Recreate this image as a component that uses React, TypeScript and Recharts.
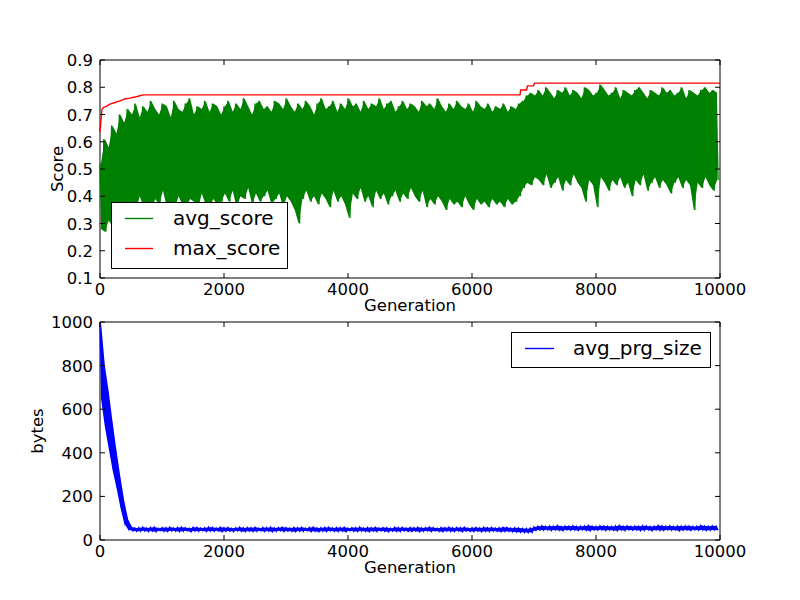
import { Area, ComposedChart, Legend, Line, ReferenceArea, XAxis, YAxis } from "recharts";

// generation grid: one high and one low reading per 62.5 generations
const GEN_STEP = 62.5;

const genTicks = [0, 2000, 4000, 6000, 8000, 10000];
const scoreTicks = [0.1, 0.2, 0.3, 0.4, 0.5, 0.6, 0.7, 0.8, 0.9];
const byteTicks = [0, 200, 400, 600, 800, 1000];

// avg_score, upper and lower swings of the noisy band
const scoreHigh = [
  0.52, 0.61, 0.58, 0.66, 0.63, 0.7, 0.67, 0.72,
  0.7, 0.74, 0.69, 0.73, 0.71, 0.75, 0.72, 0.7, 0.74, 0.73,
  0.69, 0.75, 0.72, 0.71, 0.74, 0.76, 0.7, 0.73, 0.72, 0.75,
  0.71, 0.74, 0.73, 0.7,
  0.73, 0.75, 0.71, 0.74, 0.72, 0.76, 0.73, 0.7, 0.74, 0.75,
  0.72, 0.73, 0.71, 0.75, 0.74, 0.72, 0.76, 0.73, 0.71, 0.74,
  0.72, 0.75, 0.73, 0.7, 0.74, 0.76, 0.72, 0.73, 0.75, 0.71,
  0.74, 0.72, 0.76, 0.73, 0.74, 0.71, 0.75, 0.72, 0.74, 0.73,
  0.76, 0.72, 0.74, 0.75, 0.71, 0.73, 0.75, 0.72, 0.74, 0.73,
  0.71, 0.75, 0.73, 0.74, 0.72, 0.76, 0.73, 0.71, 0.74, 0.72,
  0.75, 0.73, 0.72, 0.74, 0.71, 0.75, 0.73, 0.72, 0.74, 0.71,
  0.73, 0.72, 0.74, 0.71, 0.73, 0.72, 0.74,
  0.75, 0.77, 0.78, 0.77,
  0.79, 0.77, 0.8, 0.78, 0.76, 0.79, 0.78, 0.8, 0.77, 0.79,
  0.78, 0.76, 0.8, 0.79, 0.77, 0.78, 0.81, 0.79, 0.77, 0.78,
  0.8, 0.76, 0.79, 0.78, 0.77, 0.79, 0.8, 0.78, 0.76, 0.79,
  0.78, 0.77, 0.8, 0.78, 0.79, 0.77, 0.78, 0.8, 0.76, 0.79,
  0.78, 0.77, 0.79, 0.8, 0.78, 0.79, 0.78,
];
const scoreLow = [
  0.28, 0.27, 0.31, 0.29, 0.33, 0.3, 0.35, 0.34,
  0.37, 0.35, 0.4, 0.36, 0.38, 0.34, 0.39, 0.37, 0.42, 0.36,
  0.38, 0.35, 0.4, 0.37, 0.36, 0.39, 0.38, 0.35, 0.41, 0.37,
  0.36, 0.39, 0.37, 0.38,
  0.41, 0.38, 0.42, 0.36, 0.4, 0.39, 0.43, 0.37, 0.41, 0.38,
  0.4, 0.42, 0.37, 0.39, 0.41, 0.36, 0.4, 0.38, 0.35, 0.3,
  0.39, 0.42, 0.38, 0.4, 0.37, 0.41, 0.39, 0.36, 0.42, 0.38,
  0.4, 0.37, 0.32, 0.41, 0.39, 0.43, 0.38, 0.4, 0.36, 0.42,
  0.39, 0.41, 0.37, 0.4, 0.42, 0.38, 0.41, 0.39, 0.43, 0.4,
  0.38, 0.42, 0.36, 0.39, 0.37, 0.4, 0.38, 0.35, 0.39, 0.37,
  0.38, 0.36, 0.4, 0.37, 0.35, 0.39, 0.37, 0.38, 0.36, 0.39,
  0.37, 0.38, 0.36, 0.39, 0.37, 0.38, 0.4,
  0.43, 0.45, 0.44, 0.47,
  0.46, 0.44, 0.48, 0.43, 0.45, 0.47, 0.42, 0.46, 0.44, 0.48,
  0.45, 0.43, 0.38, 0.46, 0.44, 0.36, 0.47, 0.45, 0.42, 0.46,
  0.44, 0.47, 0.43, 0.45, 0.4, 0.46, 0.44, 0.48, 0.42, 0.45,
  0.47, 0.43, 0.46, 0.44, 0.41, 0.45, 0.47, 0.43, 0.46, 0.44,
  0.35, 0.45, 0.43, 0.47, 0.44, 0.42, 0.46,
];

// max_score, a rising step line
const maxScoreGen = [0, 32, 65, 100, 161, 240, 323, 403, 480, 565, 630, 694, 6775, 6785, 6880, 6895, 6990, 7010, 10000];
const maxScoreVal = [0.637, 0.72, 0.727, 0.73, 0.738, 0.744, 0.75, 0.757, 0.76, 0.764, 0.768, 0.772, 0.772, 0.79, 0.79, 0.805, 0.805, 0.815, 0.815];

// avg_prg_size, upper and lower swings
const prgHigh = [
  1000, 800, 680, 540, 410, 290, 180, 95, 60, 55,
  56, 58, 55, 57, 59, 54, 57, 56, 58, 55,
  57, 59, 56, 54, 58, 57, 55, 56, 59, 57,
  55, 58, 56, 57, 54, 56, 58, 55, 57, 56,
  58, 54, 57, 56, 59, 55, 57, 58, 56, 55,
  57, 56, 58, 54, 57, 59, 55, 56, 57, 58,
  55, 57, 56, 58, 54, 57, 56, 59, 55, 57,
  56, 58, 55, 57, 56, 54, 58, 56, 57, 55,
  57, 56, 58, 55, 57, 59, 56, 54, 57, 56,
  58, 55, 57, 56, 58, 54, 56, 57, 55, 58,
  56, 57, 55, 56, 58, 57, 54, 56, 55, 53,
  52, 54,
  60, 63, 65, 62, 64, 63, 66, 62, 64, 63,
  65, 62, 63, 64, 66, 63, 62, 65, 64, 63,
  62, 64, 66, 63, 65, 62, 64, 63, 65, 64,
  62, 63, 66, 64, 63, 65, 62, 64, 63, 65,
  64, 62, 63, 66, 64, 63, 65, 63,
];
const prgLow = [
  650, 520, 420, 320, 240, 150, 76, 48, 42, 40,
  40, 42, 39, 41, 38, 43, 40, 39, 42, 41,
  39, 40, 42, 38, 41, 40, 43, 39, 41, 40,
  42, 38, 40, 41, 39, 42, 40, 38, 41, 39,
  40, 42, 39, 41, 38, 40, 43, 39, 41, 40,
  38, 41, 40, 42, 39, 40, 38, 41, 39, 42,
  40, 39, 41, 38, 42, 40, 39, 41, 40, 38,
  41, 39, 42, 40, 38, 41, 40, 39, 42, 40,
  39, 41, 38, 40, 42, 39, 41, 40, 38, 41,
  40, 39, 42, 38, 41, 40, 39, 41, 38, 40,
  39, 41, 40, 38, 39, 40, 38, 37, 36, 35,
  34, 35,
  44, 46, 45, 47, 44, 46, 45, 43, 47, 45,
  46, 44, 47, 45, 43, 46, 45, 47, 44, 46,
  45, 43, 46, 44, 47, 45, 46, 44, 45, 47,
  43, 46, 45, 44, 47, 45, 46, 43, 45, 46,
  44, 47, 45, 46, 44, 45, 46, 45,
];

// zigzag through the swings for the line, and the band between them for the fill
const zigzag = (high: number[], low: number[]) =>
  high.flatMap((h, i) => [
    { gen: i * GEN_STEP, v: h },
    { gen: i * GEN_STEP + GEN_STEP / 2, v: low[i] },
  ]);
const band = (high: number[], low: number[]) =>
  high.map((h, i) => ({ gen: i * GEN_STEP + GEN_STEP / 4, range: [low[i], h] }));

const avgScoreData = zigzag(scoreHigh, scoreLow);
const avgScoreBand = band(scoreHigh, scoreLow);
const maxScoreData = maxScoreGen.map((gen, i) => ({ gen, v: maxScoreVal[i] }));
const prgData = zigzag(prgHigh, prgLow);
const prgBand = band(prgHigh, prgLow);

const PLOT_W = 620;
const PLOT_H = 218;
const FONT = "DejaVu Sans";
const TICK_FONT = 16.5;

function BottomTick({ x, y, payload }: any) {
  return (
    <g>
      <line x1={x} x2={x} y1={y} y2={y - 5} stroke="#000" />
      <line x1={x} x2={x} y1={y - PLOT_H} y2={y - PLOT_H + 5} stroke="#000" />
      <text x={x} y={y + 17} textAnchor="middle" fontSize={TICK_FONT} fontFamily={FONT} fill="#000">
        {payload.value}
      </text>
    </g>
  );
}

function makeLeftTick(fmt: (v: number) => string) {
  return ({ x, y, payload }: any) => (
    <g>
      <line x1={x} x2={x + 5} y1={y} y2={y} stroke="#000" />
      <line x1={x + PLOT_W - 5} x2={x + PLOT_W} y1={y} y2={y} stroke="#000" />
      <text x={x - 7} y={y + 6} textAnchor="end" fontSize={TICK_FONT} fontFamily={FONT} fill="#000">
        {fmt(payload.value)}
      </text>
    </g>
  );
}

const scoreTick = makeLeftTick((v) => v.toFixed(1));
const byteTick = makeLeftTick((v) => String(v));

function AxisTitle({ x, y, text, rotate }: { x: number; y: number; text: string; rotate?: boolean }) {
  return (
    <text
      transform={`translate(${x},${y})${rotate ? " rotate(-90)" : ""}`}
      textAnchor="middle"
      fontSize={TICK_FONT}
      fontFamily={FONT}
      fill="#000"
    >
      {text}
    </text>
  );
}

function ScoreLegend() {
  return (
    <svg width={177} height={67} style={{ display: "block" }}>
      <rect x={0.5} y={0.5} width={176} height={66} fill="#fff" stroke="#000" />
      <line x1={14} x2={42} y1={16.5} y2={16.5} stroke="#008000" strokeWidth={1.4} />
      <text x={62} y={22.5} fontSize={20} fontFamily={FONT} fill="#000">avg_score</text>
      <line x1={14} x2={42} y1={46.5} y2={46.5} stroke="#ff0000" strokeWidth={1.4} />
      <text x={62} y={52.5} fontSize={20} fontFamily={FONT} fill="#000">max_score</text>
    </svg>
  );
}

function PrgLegend() {
  return (
    <svg width={200} height={37} style={{ display: "block" }}>
      <rect x={0.5} y={0.5} width={199} height={35} fill="#fff" stroke="#000" />
      <line x1={14} x2={43} y1={16.5} y2={16.5} stroke="#0000ff" strokeWidth={1.4} />
      <text x={62} y={22.5} fontSize={20} fontFamily={FONT} fill="#000">avg_prg_size</text>
    </svg>
  );
}

export default function App() {
  return (
    <div style={{ position: "absolute", left: 0, top: 0, width: 800, height: 600, background: "#fff" }}>
      <div style={{ position: "absolute", left: 0, top: 0 }}>
        <ComposedChart width={800} height={322} margin={{ top: 60, right: 80, bottom: 0, left: 0 }}>
          <XAxis
            dataKey="gen"
            type="number"
            domain={[0, 10000]}
            ticks={genTicks}
            interval={0}
            height={44}
            tickSize={0}
            tickMargin={0}
            axisLine={false}
            tickLine={false}
            tick={BottomTick}
            label={{ content: () => <AxisTitle x={410} y={311} text="Generation" /> }}
          />
          <YAxis
            type="number"
            domain={[0.1, 0.9]}
            ticks={scoreTicks}
            interval={0}
            width={100}
            tickSize={0}
            tickMargin={0}
            axisLine={false}
            tickLine={false}
            tick={scoreTick}
            label={{ content: () => <AxisTitle x={62.5} y={169} text="Score" rotate /> }}
          />
          <ReferenceArea x1={0} x2={10000} y1={0.1} y2={0.9} fill="none" stroke="#000" strokeWidth={1} />
          <Area
            data={avgScoreBand}
            dataKey="range"
            type="linear"
            stroke="none"
            fill="#008000"
            fillOpacity={1}
            legendType="none"
            isAnimationActive={false}
          />
          <Line
            data={avgScoreData}
            dataKey="v"
            name="avg_score"
            stroke="#008000"
            strokeWidth={1.4}
            dot={false}
            isAnimationActive={false}
          />
          <Line
            data={maxScoreData}
            dataKey="v"
            name="max_score"
            stroke="#ff0000"
            strokeWidth={1.4}
            dot={false}
            isAnimationActive={false}
          />
          <Legend
            layout="vertical"
            align="center"
            verticalAlign="middle"
            content={() => <ScoreLegend />}
            wrapperStyle={{ left: 111, top: 202, width: 177, height: 67 }}
          />
        </ComposedChart>
      </div>
      <div style={{ position: "absolute", left: 0, top: 300 }}>
        <ComposedChart width={800} height={300} margin={{ top: 22, right: 80, bottom: 0, left: 0 }}>
          <XAxis
            dataKey="gen"
            type="number"
            domain={[0, 10000]}
            ticks={genTicks}
            interval={0}
            height={60}
            tickSize={0}
            tickMargin={0}
            axisLine={false}
            tickLine={false}
            tick={BottomTick}
            label={{ content: () => <AxisTitle x={410} y={273} text="Generation" /> }}
          />
          <YAxis
            type="number"
            domain={[0, 1000]}
            ticks={byteTicks}
            interval={0}
            width={100}
            tickSize={0}
            tickMargin={0}
            axisLine={false}
            tickLine={false}
            tick={byteTick}
            label={{ content: () => <AxisTitle x={43} y={131} text="bytes" rotate /> }}
          />
          <ReferenceArea x1={0} x2={10000} y1={0} y2={1000} fill="none" stroke="#000" strokeWidth={1} />
          <Area
            data={prgBand}
            dataKey="range"
            type="linear"
            stroke="none"
            fill="#0000ff"
            fillOpacity={1}
            legendType="none"
            isAnimationActive={false}
          />
          <Line
            data={prgData}
            dataKey="v"
            name="avg_prg_size"
            stroke="#0000ff"
            strokeWidth={1.4}
            dot={false}
            isAnimationActive={false}
          />
          <Legend
            layout="vertical"
            align="center"
            verticalAlign="middle"
            content={() => <PrgLegend />}
            wrapperStyle={{ left: 511, top: 32, width: 200, height: 37 }}
          />
        </ComposedChart>
      </div>
    </div>
  );
}
